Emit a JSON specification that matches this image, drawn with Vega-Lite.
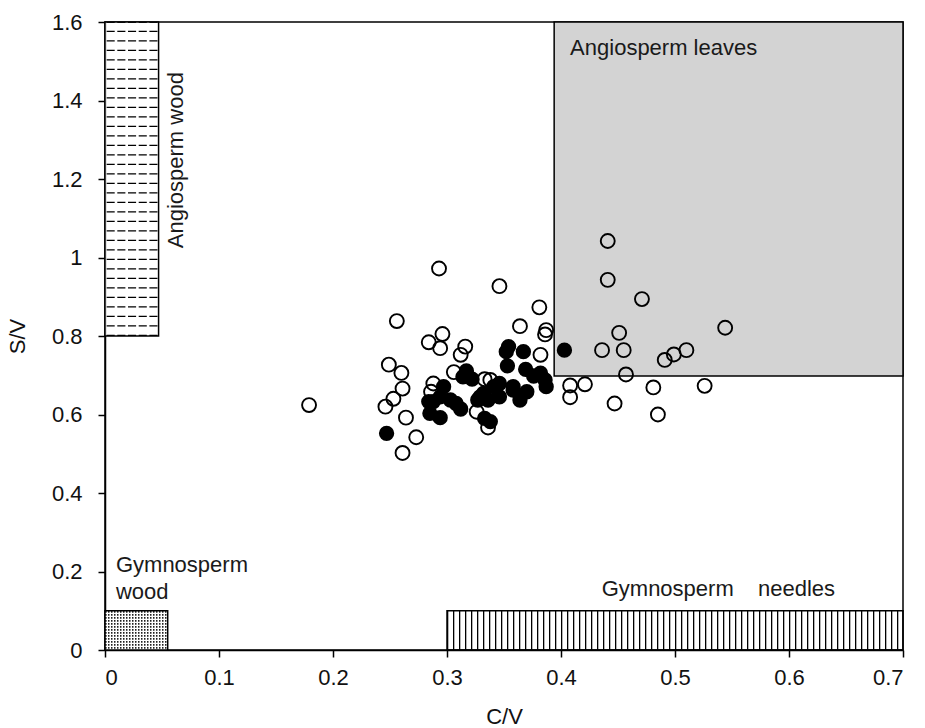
{
  "$schema": "https://vega.github.io/schema/vega-lite/v6.json",
  "width": 798,
  "height": 628,
  "autosize": {"type": "none"},
  "padding": {"left": 105, "top": 22, "right": 22, "bottom": 78},
  "background": "white",
  "config": {
    "view": {"stroke": "black", "strokeWidth": 1.5},
    "font": "Liberation Sans",
    "axis": {
      "grid": false,
      "domainColor": "black",
      "domainWidth": 1.5,
      "tickColor": "black",
      "tickWidth": 1.5,
      "tickSize": 7,
      "labelFont": "Liberation Sans",
      "labelFontSize": 22,
      "labelColor": "#111",
      "titleFont": "Liberation Sans",
      "titleFontSize": 22,
      "titleFontWeight": "normal",
      "titleColor": "#111",
      "zindex": 1
    },
    "axisX": {"labelPadding": 10, "titlePadding": 18},
    "axisY": {"labelPadding": 16, "titlePadding": 22}
  },
  "datasets": {
    "zones": [
      {"zone": "Angiosperm wood", "x0": 0, "x1": 0.047, "y0": 0.8, "y1": 1.6, "xmid": 0.0235, "ymid": 1.2},
      {"zone": "Angiosperm leaves", "x0": 0.394, "x1": 0.7, "y0": 0.698, "y1": 1.6, "xmid": 0.547, "ymid": 1.149},
      {"zone": "Gymnosperm wood", "x0": 0, "x1": 0.055, "y0": 0, "y1": 0.1, "xmid": 0.0275, "ymid": 0.05},
      {"zone": "Gymnosperm needles", "x0": 0.3, "x1": 0.7, "y0": 0, "y1": 0.1, "xmid": 0.5, "ymid": 0.05}
    ],
    "samples": [
      {"group": "open", "cv": 0.179, "sv": 0.624},
      {"group": "open", "cv": 0.246, "sv": 0.620},
      {"group": "open", "cv": 0.249, "sv": 0.727},
      {"group": "open", "cv": 0.253, "sv": 0.640},
      {"group": "open", "cv": 0.256, "sv": 0.838},
      {"group": "open", "cv": 0.260, "sv": 0.706},
      {"group": "open", "cv": 0.261, "sv": 0.666},
      {"group": "open", "cv": 0.261, "sv": 0.502},
      {"group": "open", "cv": 0.264, "sv": 0.592},
      {"group": "open", "cv": 0.273, "sv": 0.542},
      {"group": "open", "cv": 0.284, "sv": 0.784},
      {"group": "open", "cv": 0.286, "sv": 0.658},
      {"group": "open", "cv": 0.288, "sv": 0.679},
      {"group": "open", "cv": 0.294, "sv": 0.769},
      {"group": "open", "cv": 0.296, "sv": 0.805},
      {"group": "open", "cv": 0.293, "sv": 0.972},
      {"group": "open", "cv": 0.306, "sv": 0.708},
      {"group": "open", "cv": 0.312, "sv": 0.752},
      {"group": "open", "cv": 0.316, "sv": 0.773},
      {"group": "open", "cv": 0.326, "sv": 0.607},
      {"group": "open", "cv": 0.336, "sv": 0.567},
      {"group": "open", "cv": 0.338, "sv": 0.688},
      {"group": "open", "cv": 0.333, "sv": 0.690},
      {"group": "open", "cv": 0.346, "sv": 0.927},
      {"group": "open", "cv": 0.364, "sv": 0.825},
      {"group": "open", "cv": 0.381, "sv": 0.873},
      {"group": "open", "cv": 0.387, "sv": 0.815},
      {"group": "open", "cv": 0.386, "sv": 0.804},
      {"group": "open", "cv": 0.382, "sv": 0.752},
      {"group": "open", "cv": 0.408, "sv": 0.674},
      {"group": "open", "cv": 0.408, "sv": 0.644},
      {"group": "open", "cv": 0.421, "sv": 0.677},
      {"group": "open", "cv": 0.436, "sv": 0.764},
      {"group": "open", "cv": 0.441, "sv": 1.042},
      {"group": "open", "cv": 0.441, "sv": 0.943},
      {"group": "open", "cv": 0.447, "sv": 0.628},
      {"group": "open", "cv": 0.451, "sv": 0.808},
      {"group": "open", "cv": 0.455, "sv": 0.764},
      {"group": "open", "cv": 0.457, "sv": 0.702},
      {"group": "open", "cv": 0.471, "sv": 0.894},
      {"group": "open", "cv": 0.481, "sv": 0.669},
      {"group": "open", "cv": 0.485, "sv": 0.600},
      {"group": "open", "cv": 0.491, "sv": 0.739},
      {"group": "open", "cv": 0.499, "sv": 0.753},
      {"group": "open", "cv": 0.510, "sv": 0.764},
      {"group": "open", "cv": 0.526, "sv": 0.673},
      {"group": "open", "cv": 0.544, "sv": 0.821},
      {"group": "filled", "cv": 0.247, "sv": 0.552},
      {"group": "filled", "cv": 0.284, "sv": 0.633},
      {"group": "filled", "cv": 0.285, "sv": 0.603},
      {"group": "filled", "cv": 0.294, "sv": 0.592},
      {"group": "filled", "cv": 0.288, "sv": 0.633},
      {"group": "filled", "cv": 0.294, "sv": 0.645},
      {"group": "filled", "cv": 0.297, "sv": 0.671},
      {"group": "filled", "cv": 0.303, "sv": 0.637},
      {"group": "filled", "cv": 0.308, "sv": 0.628},
      {"group": "filled", "cv": 0.312, "sv": 0.614},
      {"group": "filled", "cv": 0.317, "sv": 0.711},
      {"group": "filled", "cv": 0.314, "sv": 0.696},
      {"group": "filled", "cv": 0.322, "sv": 0.690},
      {"group": "filled", "cv": 0.327, "sv": 0.637},
      {"group": "filled", "cv": 0.329, "sv": 0.645},
      {"group": "filled", "cv": 0.332, "sv": 0.654},
      {"group": "filled", "cv": 0.336, "sv": 0.637},
      {"group": "filled", "cv": 0.333, "sv": 0.590},
      {"group": "filled", "cv": 0.338, "sv": 0.582},
      {"group": "filled", "cv": 0.341, "sv": 0.671},
      {"group": "filled", "cv": 0.346, "sv": 0.679},
      {"group": "filled", "cv": 0.346, "sv": 0.645},
      {"group": "filled", "cv": 0.358, "sv": 0.671},
      {"group": "filled", "cv": 0.358, "sv": 0.662},
      {"group": "filled", "cv": 0.364, "sv": 0.637},
      {"group": "filled", "cv": 0.370, "sv": 0.658},
      {"group": "filled", "cv": 0.354, "sv": 0.773},
      {"group": "filled", "cv": 0.352, "sv": 0.760},
      {"group": "filled", "cv": 0.367, "sv": 0.760},
      {"group": "filled", "cv": 0.353, "sv": 0.724},
      {"group": "filled", "cv": 0.369, "sv": 0.715},
      {"group": "filled", "cv": 0.382, "sv": 0.705},
      {"group": "filled", "cv": 0.376, "sv": 0.698},
      {"group": "filled", "cv": 0.386, "sv": 0.688},
      {"group": "filled", "cv": 0.387, "sv": 0.671},
      {"group": "filled", "cv": 0.403, "sv": 0.764}
    ],
    "labels": [
      {"label": "Angiosperm leaves", "x": 0.408, "y": 1.516},
      {"label": "Gymnosperm", "x": 0.0096, "y": 0.1995},
      {"label": "wood", "x": 0.0096, "y": 0.129},
      {"label": "Gymnosperm", "x": 0.4357, "y": 0.1376},
      {"label": "needles", "x": 0.6066, "y": 0.1376},
      {"label": "Angiosperm wood", "x": 0.0684, "y": 1.248}
    ]
  },
  "layer": [
    {
      "data": {"name": "zones"},
      "transform": [{"filter": "datum.zone === 'Angiosperm leaves'"}],
      "mark": {"type": "rect", "fill": "#d3d3d3", "strokeWidth": 0},
      "encoding": {
        "x": {
          "field": "x0", "type": "quantitative",
          "scale": {"domain": [0, 0.7], "nice": false, "zero": false},
          "axis": {"values": [0, 0.1, 0.2, 0.3, 0.4, 0.5, 0.6, 0.7], "format": ".1~f"},
          "title": "C/V"
        },
        "x2": {"field": "x1"},
        "y": {
          "field": "y0", "type": "quantitative",
          "scale": {"domain": [0, 1.6], "nice": false, "zero": false},
          "axis": {"values": [0, 0.2, 0.4, 0.6, 0.8, 1, 1.2, 1.4, 1.6], "format": ".1~f"},
          "title": "S/V"
        },
        "y2": {"field": "y1"}
      }
    },
    {
      "data": {"name": "zones"},
      "transform": [{"filter": "datum.zone === 'Gymnosperm needles'"}],
      "mark": {"type": "rule", "color": "black", "strokeWidth": 39.25, "strokeDash": [1.3, 4.7], "strokeCap": "butt"},
      "encoding": {
        "x": {"field": "x0", "type": "quantitative", "title": "C/V"},
        "x2": {"field": "x1"},
        "y": {"field": "ymid", "type": "quantitative", "title": "S/V"}
      }
    },
    {
      "data": {"name": "zones"},
      "transform": [{"filter": "datum.zone === 'Angiosperm wood'"}],
      "mark": {"type": "rule", "color": "black", "strokeWidth": 53.6, "strokeDash": [1.3, 8.2], "strokeCap": "butt"},
      "encoding": {
        "x": {"field": "xmid", "type": "quantitative", "title": "C/V"},
        "y": {"field": "y0", "type": "quantitative", "title": "S/V"},
        "y2": {"field": "y1"}
      }
    },
    {
      "data": {"name": "zones"},
      "transform": [{"filter": "datum.zone === 'Angiosperm wood'"}],
      "mark": {"type": "rule", "color": "white", "strokeWidth": 314, "strokeDash": [2.6, 8.1], "strokeDashOffset": 1, "strokeCap": "butt"},
      "encoding": {
        "x": {"field": "x0", "type": "quantitative", "title": "C/V"},
        "x2": {"field": "x1"},
        "y": {"field": "ymid", "type": "quantitative", "title": "S/V"}
      }
    },
    {
      "data": {"name": "zones"},
      "transform": [{"filter": "datum.zone === 'Gymnosperm wood'"}],
      "mark": {"type": "rule", "color": "#222", "strokeWidth": 39.25, "strokeDash": [1.5, 1.5], "strokeCap": "butt"},
      "encoding": {
        "x": {"field": "x0", "type": "quantitative", "title": "C/V"},
        "x2": {"field": "x1"},
        "y": {"field": "ymid", "type": "quantitative", "title": "S/V"}
      }
    },
    {
      "data": {"name": "zones"},
      "transform": [{"filter": "datum.zone === 'Gymnosperm wood'"}],
      "mark": {"type": "rule", "color": "white", "strokeWidth": 62.7, "strokeDash": [1.3, 1.7], "strokeCap": "butt"},
      "encoding": {
        "x": {"field": "xmid", "type": "quantitative", "title": "C/V"},
        "y": {"field": "y0", "type": "quantitative", "title": "S/V"},
        "y2": {"field": "y1"}
      }
    },
    {
      "data": {"name": "zones"},
      "mark": {"type": "rect", "fill": null, "fillOpacity": 0, "stroke": "black", "strokeWidth": 1.5},
      "encoding": {
        "x": {"field": "x0", "type": "quantitative", "title": "C/V"},
        "x2": {"field": "x1"},
        "y": {"field": "y0", "type": "quantitative", "title": "S/V"},
        "y2": {"field": "y1"}
      }
    },
    {
      "data": {"name": "samples"},
      "transform": [{"filter": "datum.group === 'open'"}],
      "mark": {"type": "point", "shape": "circle", "filled": false, "stroke": "black", "strokeWidth": 1.9, "size": 195, "opacity": 1},
      "encoding": {
        "x": {"field": "cv", "type": "quantitative", "title": "C/V"},
        "y": {"field": "sv", "type": "quantitative", "title": "S/V"}
      }
    },
    {
      "data": {"name": "samples"},
      "transform": [{"filter": "datum.group === 'filled'"}],
      "mark": {"type": "point", "shape": "circle", "filled": true, "fill": "black", "size": 235, "opacity": 1},
      "encoding": {
        "x": {"field": "cv", "type": "quantitative", "title": "C/V"},
        "y": {"field": "sv", "type": "quantitative", "title": "S/V"}
      }
    },
    {
      "data": {"name": "labels"},
      "transform": [{"filter": "datum.label !== 'needles' && datum.label !== 'Angiosperm wood'"}],
      "mark": {"type": "text", "align": "left", "baseline": "alphabetic", "fontSize": 22, "color": "#1a1a1a"},
      "encoding": {
        "x": {"field": "x", "type": "quantitative", "title": "C/V"},
        "y": {"field": "y", "type": "quantitative", "title": "S/V"},
        "text": {"field": "label"}
      }
    },
    {
      "data": {"name": "labels"},
      "transform": [{"filter": "datum.label === 'needles'"}],
      "mark": {"type": "text", "align": "center", "baseline": "alphabetic", "fontSize": 22, "color": "#1a1a1a"},
      "encoding": {
        "x": {"field": "x", "type": "quantitative", "title": "C/V"},
        "y": {"field": "y", "type": "quantitative", "title": "S/V"},
        "text": {"field": "label"}
      }
    },
    {
      "data": {"name": "labels"},
      "transform": [{"filter": "datum.label === 'Angiosperm wood'"}],
      "mark": {"type": "text", "align": "center", "baseline": "alphabetic", "angle": 270, "fontSize": 22, "color": "#1a1a1a"},
      "encoding": {
        "x": {"field": "x", "type": "quantitative", "title": "C/V"},
        "y": {"field": "y", "type": "quantitative", "title": "S/V"},
        "text": {"field": "label"}
      }
    }
  ]
}
